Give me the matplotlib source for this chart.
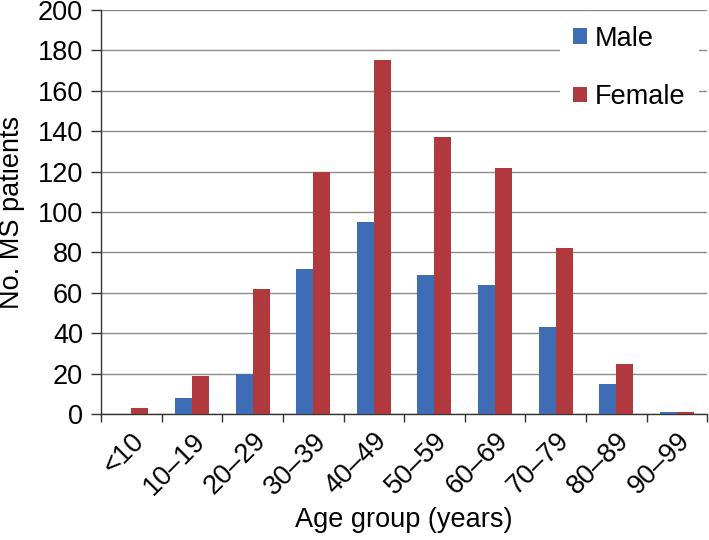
import matplotlib
matplotlib.use("Agg")
import matplotlib.pyplot as plt
import numpy as np
from matplotlib.patches import Patch

categories = ["<10", "10\u201319", "20\u201329", "30\u201339", "40\u201349", "50\u201359",
              "60\u201369", "70\u201379", "80\u201389", "90\u201399"]
male = [0, 8, 20, 72, 95, 69, 64, 43, 15, 1]
female = [3, 19, 62, 120, 175, 137, 122, 82, 25, 1]
yticks = [0, 20, 40, 60, 80, 100, 120, 140, 160, 180, 200]

plt.rcParams['font.family'] = ['Liberation Sans', 'DejaVu Sans']

blue = "#3E6DB5"
red = "#B0393D"
fs = 19.5

fig = plt.figure(figsize=(7.09, 5.40), dpi=100)
ax = fig.add_axes([0.1425, 0.2333, 0.855, 0.7482])

x = np.arange(len(categories))
w = 0.28
ax.bar(x - w / 2, male, width=w, color=blue, zorder=3)
ax.bar(x + w / 2, female, width=w, color=red, zorder=3)

ax.set_xlim(-0.5, len(categories) - 0.5)
ax.set_ylim(0, 200)
ax.set_yticks(yticks)
ax.set_yticklabels([str(t) for t in yticks], fontsize=fs)
ax.yaxis.grid(True, color="#8c8c8c", linewidth=1.0, zorder=0)
ax.set_axisbelow(True)

ax.set_xticks(x)
ax.set_xticklabels(categories, fontsize=fs, rotation=45, ha='right', va='top',
                   rotation_mode='anchor')
ax.tick_params(axis='x', which='major', length=0, pad=10)
ax.set_xticks(np.arange(len(categories) + 1) - 0.5, minor=True)
ax.tick_params(axis='x', which='minor', length=6, width=1, direction='out', color='#333333')
ax.tick_params(axis='y', length=7, width=1, direction='out', color='#333333', pad=6)

for s in ['top', 'right']:
    ax.spines[s].set_visible(False)
for s in ['left', 'bottom']:
    ax.spines[s].set_color('#333333')
    ax.spines[s].set_linewidth(1.0)

ax.set_ylabel("No. MS patients", fontsize=fs, labelpad=9)
ax.set_xlabel("Age group (years)", fontsize=fs, labelpad=5)

handles = [Patch(facecolor=blue, label="Male"), Patch(facecolor=red, label="Female")]
leg = ax.legend(handles=handles, loc='upper right', bbox_to_anchor=(1.0, 1.015),
                fontsize=fs, frameon=True, facecolor='white', edgecolor='none',
                framealpha=1.0, handlelength=0.5, handleheight=0.5, handletextpad=0.3,
                labelspacing=1.2, borderpad=0.5, borderaxespad=0.3, fancybox=False)
leg.set_zorder(5)

fig.savefig("out.png", dpi=100)
